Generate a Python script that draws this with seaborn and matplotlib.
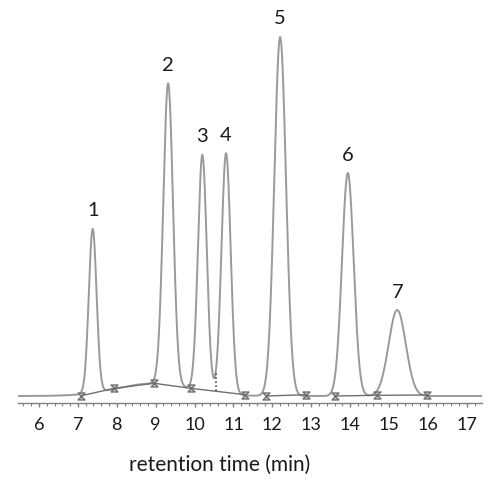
import numpy as np
import pandas as pd
import matplotlib
matplotlib.use('Agg')
import matplotlib.pyplot as plt
import seaborn as sns
from matplotlib.path import Path
from matplotlib.ticker import MultipleLocator

# peak table (time in min, height in detector units, sigma in min)
peak_labels = ['1', '2', '3', '4', '5', '6', '7']
peak_times = [7.38, 9.32, 10.20, 10.81, 12.20, 13.94, 15.21]
peak_heights = [164, 301, 236, 241, 359, 223, 86]
peak_sigmas = [0.10, 0.125, 0.113, 0.118, 0.15, 0.15, 0.22]

# broad hump under peaks 1-4
hump_time = 8.95
hump_height = 12.5
hump_sigma = 0.95

# integration baseline (marker points, grouped in segments)
base_times = [7.09, 7.94, 8.96, 9.90, 11.30, 11.84, 12.87, 13.60, 14.69, 15.98]
base_levels = [0.3, 7.7, 12.7, 7.7, 1.3, 0.0, 1.3, 0.0, 0.7, 1.0]
base_segment = [0, 0, 0, 0, 0, 1, 1, 2, 2, 2]

# drop line between peaks 3 and 4
drop_time = 10.54

tick_values = list(range(6, 18))
x_label = 'retention time (min)'

trace_color = '#9a9a9a'
base_color = '#6f6f6f'


def gauss(t, center, height, sigma):  # single gaussian peak
    return height * np.exp(-(t - center) ** 2 / (2 * sigma ** 2))


def main():
    sns.set_style('white')
    plt.rcParams['font.family'] = ['Lato', 'DejaVu Sans']

    t = np.linspace(5.46, 17.39, 4000)
    signal = gauss(t, hump_time, hump_height, hump_sigma)
    for rt, h, s in zip(peak_times, peak_heights, peak_sigmas):
        signal = signal + gauss(t, rt, h, s)
    trace = pd.DataFrame({'time': t, 'signal': signal})
    base = pd.DataFrame({'time': base_times, 'level': base_levels, 'segment': base_segment})

    fig = plt.figure(figsize=(5, 4.79), dpi=100)
    ax = fig.add_axes([18 / 500, 1 - 403 / 479, 464 / 500, 393 / 479])

    sns.lineplot(data=trace, x='time', y='signal', color=trace_color, lw=1.4,
                 estimator=None, sort=False, ax=ax)

    hourglass = Path([(-1, 1), (1, 1), (-1, -1), (1, -1), (-1, 1)],
                     [Path.MOVETO, Path.LINETO, Path.LINETO, Path.LINETO, Path.CLOSEPOLY])
    sns.lineplot(data=base, x='time', y='level', units='segment', estimator=None,
                 color=base_color, lw=1.0, marker=hourglass, markersize=5,
                 markerfacecolor='#d0d0d0', markeredgecolor=base_color, markeredgewidth=1.0,
                 ax=ax, legend=False)

    # dotted drop line from the baseline up to the valley
    seg0 = base[base['segment'] == 0]
    drop_bottom = np.interp(drop_time, seg0['time'], seg0['level'])
    drop_top = np.interp(drop_time, t, signal)
    ax.vlines(drop_time, drop_bottom, drop_top, colors='#333333', linestyles=':', lw=1.1)

    # peak numbers
    for label, rt in zip(peak_labels, peak_times):
        apex = np.interp(rt, t, signal)
        ax.text(rt, apex + 18, label, ha='center', va='center', fontsize=14.5, color='#1a1a1a')

    ax.set_xlim(5.46, 17.39)
    ax.set_ylim(-7, 386)
    ax.set_xticks(tick_values)
    ax.set_xticklabels([str(v) for v in tick_values])
    ax.xaxis.set_minor_locator(MultipleLocator(0.2))
    ax.set_yticks([])
    ax.set_ylabel('')
    for side in ['top', 'right', 'left']:
        ax.spines[side].set_visible(False)
    ax.spines['bottom'].set_color('#808080')
    ax.spines['bottom'].set_linewidth(1.0)
    ax.tick_params(axis='x', which='major', direction='out', length=3, width=1,
                   color='#808080', pad=7, labelsize=13, labelcolor='#1a1a1a', bottom=True)
    ax.tick_params(axis='x', which='minor', direction='out', length=2, width=0.8,
                   color='#808080', bottom=True)

    ax.set_xlabel(x_label, fontsize=15, color='#1a1a1a')
    ax.xaxis.label.set_va('center')
    ax.xaxis.set_label_coords((220 - 18) / 464, -(465 - 403) / 393)

    fig.savefig('out.png', dpi=100)


if __name__ == '__main__':
    main()
